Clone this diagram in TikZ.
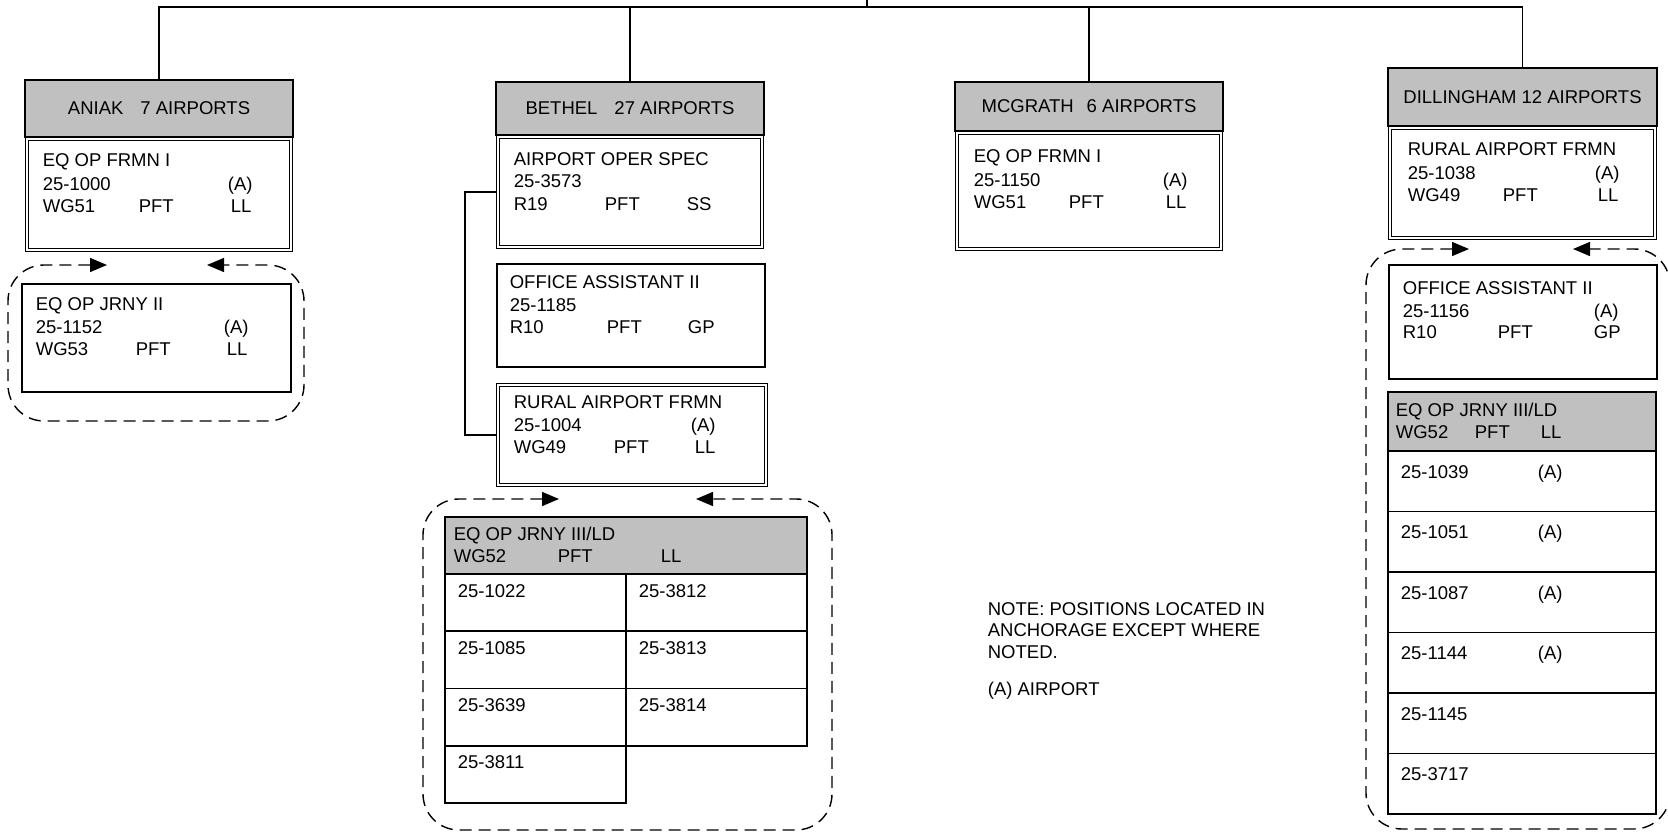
\documentclass[tikz,border=0pt]{standalone}
\usepackage{fontspec}
\setmainfont{Liberation Sans}
\usetikzlibrary{arrows.meta}
\definecolor{HdrGray}{HTML}{C0C0C0}
\tikzset{
  hdr/.style={draw,fill=HdrGray,anchor=north west,inner sep=0pt,outer sep=0pt},
  posbox/.style={draw,anchor=north west,inner sep=0pt,outer sep=0pt},
  dblbox/.style={draw,double,double distance=2.6pt,line width=1.1pt,anchor=north west,inner sep=0pt,outer sep=2pt},
  cell/.style={posbox,minimum width=181pt,minimum height=57.3pt},
  lbl/.style={anchor=base west,inner sep=0pt},
  ring/.style={dash pattern=on 12pt off 7pt,line width=1.4pt,rounded corners=36pt,{Triangle[length=17pt,width=14pt]}-{Triangle[length=17pt,width=14pt]}}
}
\begin{document}
\begin{tikzpicture}[x=1pt,y=-1pt,font=\fontsize{18.5}{22}\selectfont,line width=1.7pt]
\useasboundingbox (0,0) rectangle (1668,832);
\clip (0,0) rectangle (1668,832);
% district headers
\node[hdr,minimum width=268pt,minimum height=57pt] (an) at (25,80) {ANIAK\hspace{17pt}7 AIRPORTS};
\node[hdr,minimum width=268pt,minimum height=53pt] (be) at (496,82) {BETHEL\hspace{17pt}27 AIRPORTS};
\node[hdr,minimum width=268pt,minimum height=49pt] (mc) at (955,82) {MCGRATH\hspace{13pt}6 AIRPORTS};
\node[hdr,minimum width=269pt,minimum height=58pt] (di) at (1388,68) {DILLINGHAM 12 AIRPORTS};
% position boxes
\node[dblbox,minimum width=264pt,minimum height=111pt] (an1) at (25,137) {};
\node[posbox,minimum width=269pt,minimum height=108pt] (an2) at (22,284) {};
\node[dblbox,minimum width=264pt,minimum height=110pt] (be1) at (496,135) {};
\node[posbox,minimum width=268pt,minimum height=103pt] (be2) at (497,264) {};
\node[dblbox,minimum width=268pt,minimum height=100pt] (be3) at (496,383) {};
\node[hdr,minimum width=362pt,minimum height=57pt] (be4) at (445,517) {};
\node[dblbox,minimum width=264pt,minimum height=116pt] (mc1) at (955,131) {};
\node[dblbox,minimum width=265pt,minimum height=110pt] (di1) at (1388,126) {};
\node[posbox,minimum width=268pt,minimum height=114pt] (di2) at (1389,265) {};
\node[hdr,minimum width=268pt,minimum height=59pt] (di3) at (1388,392) {};
% aniak
\node[lbl] (an1t) at (42,167) {EQ OP FRMN I};
\node[lbl] (an1n) at (42,190) {25-1000};\node[lbl] (an1a) at (227,190) {(A)};
\node[lbl] (an1w) at (42,212) {WG51};\node[lbl] (an1p) at (138,212) {PFT};\node[lbl] (an1l) at (230,212) {LL};
\node[lbl] (an2t) at (35,310) {EQ OP JRNY II};
\node[lbl] (an2n) at (35,333) {25-1152};\node[lbl] (an2a) at (223,333) {(A)};
\node[lbl] (an2w) at (35,355) {WG53};\node[lbl] (an2p) at (135,355) {PFT};\node[lbl] (an2l) at (226,355) {LL};
% bethel
\node[lbl] (be1t) at (513,165) {AIRPORT OPER SPEC};
\node[lbl] (be1n) at (513,187) {25-3573};
\node[lbl] (be1w) at (513,210) {R19};\node[lbl] (be1p) at (604,210) {PFT};\node[lbl] (be1l) at (686,210) {SS};
\node[lbl] (be2t) at (509,288) {OFFICE ASSISTANT II};
\node[lbl] (be2n) at (509,311) {25-1185};
\node[lbl] (be2w) at (509,333) {R10};\node[lbl] (be2p) at (606,333) {PFT};\node[lbl] (be2l) at (687,333) {GP};
\node[lbl] (be3t) at (513,408) {RURAL AIRPORT FRMN};
\node[lbl] (be3n) at (513,431) {25-1004};\node[lbl] (be3a) at (690,431) {(A)};
\node[lbl] (be3w) at (513,453) {WG49};\node[lbl] (be3p) at (613,453) {PFT};\node[lbl] (be3l) at (694,453) {LL};
\node[lbl] (be4t) at (453,540) {EQ OP JRNY III/LD};
\node[lbl] (be4w) at (453,562) {WG52};\node[lbl] (be4p) at (557,562) {PFT};\node[lbl] (be4l) at (660,562) {LL};
\foreach \n [count=\i from 0] in {25-1022,25-1085,25-3639,25-3811}{
  \node[cell] (bl\i) at (445,574+57.3*\i) {};
  \node[lbl] (blt\i) at ([xshift=12pt,yshift=-23pt]bl\i.north west) {\n};}
\foreach \n [count=\i from 0] in {25-3812,25-3813,25-3814}{
  \node[cell] (br\i) at (626,574+57.3*\i) {};
  \node[lbl] (brt\i) at ([xshift=12pt,yshift=-23pt]br\i.north west) {\n};}
% mcgrath
\node[lbl] (mc1t) at (973,163) {EQ OP FRMN I};
\node[lbl] (mc1n) at (973,186) {25-1150};\node[lbl] (mc1a) at (1162,186) {(A)};
\node[lbl] (mc1w) at (973,208) {WG51};\node[lbl] (mc1p) at (1068,208) {PFT};\node[lbl] (mc1l) at (1165,208) {LL};
% dillingham
\node[lbl] (di1t) at (1407,156) {RURAL AIRPORT FRMN};
\node[lbl] (di1n) at (1407,179) {25-1038};\node[lbl] (di1a) at (1594,179) {(A)};
\node[lbl] (di1w) at (1407,201) {WG49};\node[lbl] (di1p) at (1502,201) {PFT};\node[lbl] (di1l) at (1597,201) {LL};
\node[lbl] (di2t) at (1402,294) {OFFICE ASSISTANT II};
\node[lbl] (di2n) at (1402,317) {25-1156};\node[lbl] (di2a) at (1593,317) {(A)};
\node[lbl] (di2w) at (1402,338) {R10};\node[lbl] (di2p) at (1497,338) {PFT};\node[lbl] (di2l) at (1593,338) {GP};
\node[lbl] (di3t) at (1395,416) {EQ OP JRNY III/LD};
\node[lbl] (di3w) at (1395,438) {WG52};\node[lbl] (di3p) at (1474,438) {PFT};\node[lbl] (di3l) at (1540,438) {LL};
\foreach \n/\a [count=\i from 0] in {25-1039/(A),25-1051/(A),25-1087/(A),25-1144/(A),25-1145/{},25-3717/{}}{
  \node[posbox,minimum width=268pt,minimum height=60.5pt] (dr\i) at (1388,451+60.5*\i) {};
  \node[lbl] (drn\i) at ([xshift=12pt,yshift=-27pt]dr\i.north west) {\n};
  \node[lbl] (dra\i) at ([xshift=149pt,yshift=-27pt]dr\i.north west) {\a};}
% note
\node[lbl] (nt1) at (987,615) {NOTE: POSITIONS LOCATED IN};
\node[lbl] (nt2) at (987,636) {ANCHORAGE EXCEPT WHERE};
\node[lbl] (nt3) at (987,658) {NOTED.};
\node[lbl] (nt4) at (987,695) {(A) AIRPORT};
% connectors
\coordinate (org) at (867,0);\coordinate (bus) at (867,7);
\draw (org) -- (bus);
\draw (an.north) -- (an.north |- bus) -- (di.north |- bus) -- (di.north);
\draw (be.north) -- (be.north |- bus);
\draw (mc.north) -- (mc.north |- bus);
\draw (be1.west) -- ++(-31,0) |- (be3.west);
% dashed groups
\coordinate (anL) at (107,265);\coordinate (anR) at (207,265);
\draw[ring] (anL) -| (8,421) -| (304,265) -- (anR);
\coordinate (beL) at (559,499);\coordinate (beR) at (696,499);
\draw[ring] (beL) -| (423,830) -| (832,499) -- (beR);
\coordinate (diL) at (1469,249);\coordinate (diR) at (1573,249);
\draw[ring] (diL) -| (1366,829) -| (1670,249) -- (diR);
\end{tikzpicture}
\end{document}
